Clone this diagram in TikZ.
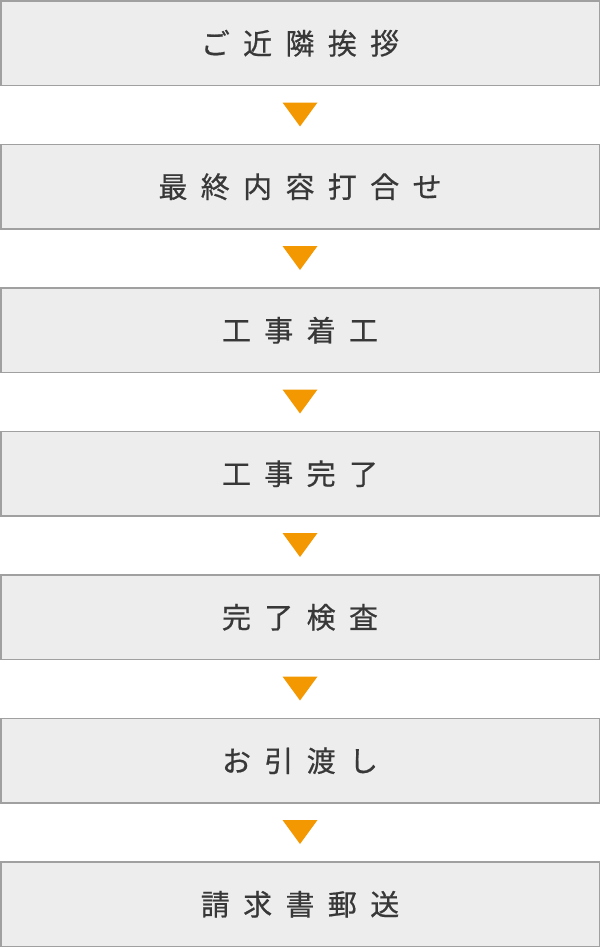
\documentclass[tikz,border=0pt]{standalone}
\usepackage{fontspec}
\usepackage{xcolor}
\usepackage{tikz}
\usetikzlibrary{calc}
\newfontfamily\jpfont[LetterSpace=46,FakeBold=0.6]{Noto Sans CJK JP}
\definecolor{boxfill}{HTML}{ECEDEC}
\definecolor{boxline}{HTML}{A0A0A0}
\definecolor{marker}{HTML}{F39800}
\definecolor{txt}{HTML}{383838}
\tikzset{
  stepbox/.style={draw=boxline,fill=boxfill,line width=1.5pt,
    minimum width=598.5pt,minimum height=84.5pt,inner sep=0pt,
    text=txt,font=\jpfont\fontsize{29pt}{34pt}\selectfont},
  downmark/.style={fill=marker}
}

\begin{document}
\begin{tikzpicture}[x=1pt,y=-1pt]
    \useasboundingbox (0,0) rectangle (600,948);
    \node[stepbox] (S0) at (300,43.25) {ご近隣挨拶};
    \node[stepbox] (S1) at (300,186.75) {最終内容打合せ};
    \node[stepbox] (S2) at (300,330.25) {工事着工};
    \node[stepbox] (S3) at (300,473.75) {工事完了};
    \node[stepbox] (S4) at (300,617.25) {完了検査};
    \node[stepbox] (S5) at (300,760.75) {お引渡し};
    \node[stepbox] (S6) at (300,904.25) {請求書郵送};
    % markers between the steps
    \foreach \a/\b in {S0/S1,S1/S2,S2/S3,S3/S4,S4/S5,S5/S6} {
      \coordinate (m) at ($(\a.south)!0.5!(\b.north)$);
      \fill[downmark] ($(m)+(-17.5,-12.5)$) -- ($(m)+(17.5,-12.5)$)
        -- ($(m)+(0,11.5)$) -- cycle;
    }
\end{tikzpicture}
\end{document}
